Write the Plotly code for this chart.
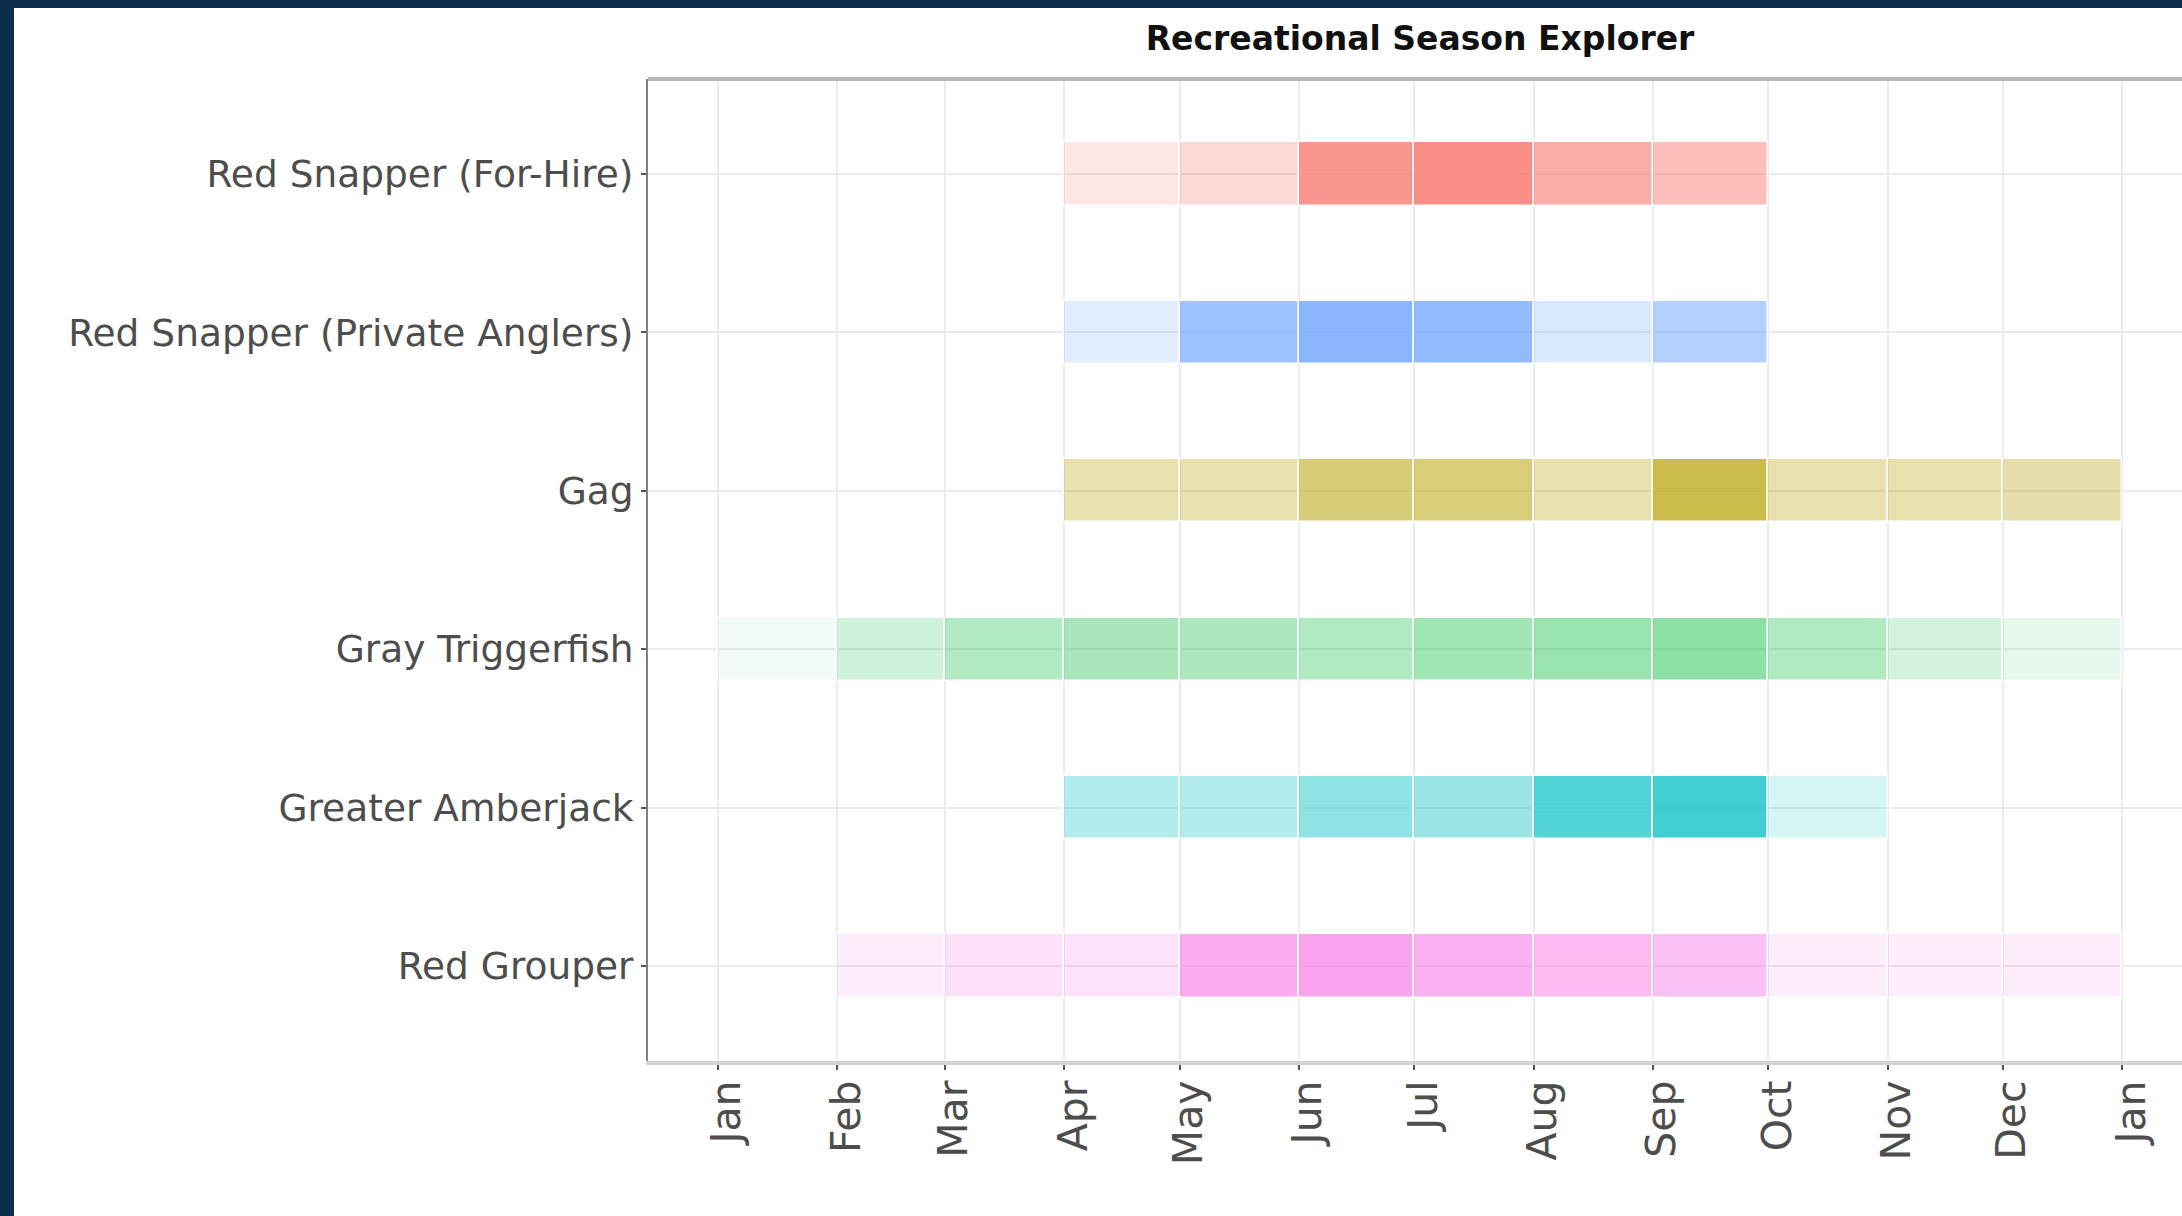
import plotly.graph_objects as go
import pandas as pd

# ---------------- data ----------------
species = [
    "Red Snapper (For-Hire)",
    "Red Snapper (Private Anglers)",
    "Gag",
    "Gray Triggerfish",
    "Greater Amberjack",
    "Red Grouper",
]
species_colors = ["#F8766D", "#619CFF", "#B79F00", "#00BA38", "#00BFC4", "#F564E3"]

month_labels = ["Jan", "Feb", "Mar", "Apr", "May", "Jun",
                "Jul", "Aug", "Sep", "Oct", "Nov", "Dec", "Jan"]
month_starts = ["2023-01-01", "2023-02-01", "2023-03-01", "2023-04-01", "2023-05-01",
                "2023-06-01", "2023-07-01", "2023-08-01", "2023-09-01", "2023-10-01",
                "2023-11-01", "2023-12-01", "2024-01-01"]

# season intensity (tile opacity) per month Jan..Dec; None = closed
red_snapper_for_hire = [None, None, None, 0.17, 0.28, 0.77, 0.82, 0.60, 0.47, None, None, None]
red_snapper_private  = [None, None, None, 0.18, 0.62, 0.74, 0.69, 0.24, 0.48, None, None, None]
gag                  = [None, None, None, 0.31, 0.32, 0.53, 0.52, 0.32, 0.70, 0.32, 0.32, 0.33]
gray_triggerfish     = [0.05, 0.19, 0.30, 0.34, 0.33, 0.31, 0.37, 0.40, 0.45, 0.31, 0.17, 0.10]
greater_amberjack    = [None, None, None, 0.30, 0.30, 0.44, 0.40, 0.67, 0.75, 0.16, None, None]
red_grouper          = [None, 0.11, 0.20, 0.18, 0.53, 0.59, 0.50, 0.44, 0.40, 0.11, 0.11, 0.11]

intensities = [red_snapper_for_hire, red_snapper_private, gag,
               gray_triggerfish, greater_amberjack, red_grouper]


def rgba(hex_color, a):
    h = hex_color.lstrip("#")
    r, g, b = int(h[0:2], 16), int(h[2:4], 16), int(h[4:6], 16)
    return f"rgba({r},{g},{b},{a})"


starts = pd.to_datetime(month_starts)

fig = go.Figure()
for name, col, vals in zip(species, species_colors, intensities):
    bases, durs, cols = [], [], []
    for i, v in enumerate(vals):
        if v is None:
            continue
        s, e = starts[i], starts[i + 1]
        bases.append(s.strftime("%Y-%m-%d"))
        durs.append((e - s).total_seconds() * 1000.0)
        cols.append(rgba(col, v))
    fig.add_trace(go.Bar(
        orientation="h",
        y=[name] * len(bases),
        base=bases,
        x=durs,
        width=0.4,
        marker=dict(color=cols, line=dict(color="white", width=1.5)),
        showlegend=False,
        hoverinfo="skip",
    ))

# ---------------- layout ----------------
W, H = 2182, 1216
L, R, T, B = 648, 0, 79, 1216 - 1061
pw, ph = W - L - R, H - T - B


def px_x(x):
    return (x - L) / pw


def px_y(y):
    return (H - B - y) / ph


font_family = "DejaVu Sans"

fig.update_layout(
    width=W, height=H,
    margin=dict(l=L, r=R, t=T, b=B, pad=0),
    paper_bgcolor="#0d2e4b",
    plot_bgcolor="white",
    barmode="overlay",
    bargap=0,
    font=dict(family=font_family, color="#4d4d4d"),
    title=dict(
        text="<b>Recreational Season Explorer</b>",
        font=dict(family=font_family, size=33, color="#111111"),
        xref="paper", x=px_x(1420), xanchor="center",
        yref="container", y=1 - 38 / H, yanchor="middle",
    ),
    shapes=[
        dict(type="rect", xref="paper", yref="paper", layer="below",
             x0=px_x(14), x1=px_x(W + 10), y0=px_y(8), y1=px_y(H + 10),
             fillcolor="white", line=dict(width=0)),
        dict(type="line", xref="paper", yref="paper", layer="above",
             x0=0, x1=1.01, y0=1, y1=1, line=dict(color="#b5b5b5", width=4)),
    ],
)

fig.update_xaxes(
    type="date",
    range=["2022-12-13 19:00", "2024-01-16 12:00"],
    tickmode="array",
    tickvals=month_starts,
    ticktext=month_labels,
    tickangle=-90,
    ticklabelshift=9,
    ticklabelstandoff=-6,
    tickfont=dict(family=font_family, size=41, color="#4d4d4d"),
    showgrid=True, gridcolor="#ebebeb", gridwidth=2,
    showline=True, linecolor="#d3d3d3", linewidth=4,
    ticks="outside", ticklen=5, tickwidth=1.5, tickcolor="#555555",
    zeroline=False,
    fixedrange=True,
)

fig.update_yaxes(
    type="category",
    categoryorder="array",
    categoryarray=list(reversed(species)),
    range=[-0.6, len(species) - 0.4],
    tickfont=dict(family=font_family, size=37.5, color="#4d4d4d"),
    showgrid=True, gridcolor="#ebebeb", gridwidth=2,
    showline=True, linecolor="#808080", linewidth=2,
    ticks="outside", ticklen=5, tickwidth=1.5, tickcolor="#555555",
    zeroline=False,
    fixedrange=True,
)

fig.write_html(
    "out.html",
    config={"displayModeBar": False},
    post_script="document.body.style.margin='0';document.body.style.overflow='hidden';",
)
